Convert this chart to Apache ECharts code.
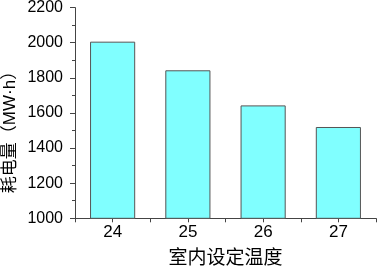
<!DOCTYPE html>
<html>
<head>
<meta charset="utf-8">
<script src="https://cdn.jsdelivr.net/npm/echarts@6/dist/echarts.min.js"></script>
<style>html,body{margin:0;padding:0;background:#fff;}#c{width:378px;height:266px;}</style>
</head>
<body>
<div id="c"></div>
<script>
var categories = ['24', '25', '26', '27'];
var energy = [2006, 1843, 1643, 1520];
var yTicks = [1000, 1200, 1400, 1600, 1800, 2000, 2200];
var xName = '室内设定温度';
var yName = '耗电量（MW·h）';

var chart = echarts.init(document.getElementById('c'));
var axisColor = '#444';
chart.setOption({
  animation: false,
  grid: { left: 75, right: 2, top: 7.6, bottom: 47.7, containLabel: false, outerBoundsMode: 'none' },
  graphic: [{
    type: 'text',
    x: 10,
    y: 128,
    rotation: Math.PI / 2,
    style: {
      text: yName,
      fontFamily: 'Liberation Sans, Noto Sans CJK SC',
      fontSize: 17,
      fill: '#000',
      align: 'center',
      verticalAlign: 'middle'
    }
  }],
  xAxis: [{
    type: 'category',
    data: categories,
    name: xName,
    nameLocation: 'middle',
    nameGap: 29,
    nameMoveOverlap: false,
    nameTextStyle: { fontFamily: 'Noto Sans CJK SC', fontSize: 19, color: '#000' },
    axisLine: { show: true, lineStyle: { color: axisColor, width: 1 } },
    axisTick: { show: true, length: 4, lineStyle: { color: axisColor } },
    axisLabel: { fontFamily: 'Liberation Sans, Arial', fontSize: 17, color: '#000', margin: 6 }
  }, {
    type: 'category',
    data: categories,
    position: 'bottom',
    axisLine: { show: false },
    axisTick: { show: true, alignWithLabel: true, length: 4, lineStyle: { color: axisColor } },
    axisLabel: { show: false }
  }],
  yAxis: {
    type: 'value',
    min: yTicks[0],
    max: yTicks[yTicks.length - 1],
    interval: 200,
    axisLine: { show: true, lineStyle: { color: axisColor, width: 1 } },
    axisTick: { show: true, length: 5, lineStyle: { color: axisColor } },
    minorTick: { show: true, splitNumber: 2, length: 3, lineStyle: { color: axisColor } },
    splitLine: { show: false },
    axisLabel: { fontFamily: 'Liberation Sans, Arial', fontSize: 16, color: '#000', margin: 12,
      formatter: function (v) { return String(v); } }
  },
  series: [{
    type: 'bar',
    data: energy,
    barWidth: '60%',
    itemStyle: { color: '#80FFFF', borderColor: '#555', borderWidth: 1 }
  }]
});
</script>
</body>
</html>
